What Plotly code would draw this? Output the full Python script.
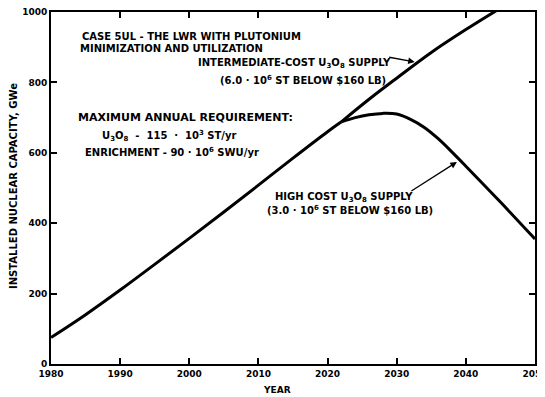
import plotly.graph_objects as go

# Data
base_years = [1980, 1985, 1990, 1995, 2000, 2005, 2010, 2015, 2020, 2022]
base_values = [75, 140, 210, 283, 357, 432, 508, 585, 660, 688]

inter_years = [2022, 2026, 2030, 2035, 2040, 2045]
inter_values = [688, 752, 812, 885, 950, 1011]

high_years = [2022, 2024, 2026, 2028, 2030, 2032, 2034, 2036, 2038, 2040, 2045, 2050]
high_values = [688, 700, 708, 712, 710, 695, 672, 640, 602, 562, 460, 355]

x_ticks = [1980, 1990, 2000, 2010, 2020, 2030, 2040, 2050]
y_ticks = [0, 200, 400, 600, 800, 1000]

FONT = "DejaVu Sans"
line_style = dict(color="black", width=3)

fig = go.Figure()
fig.add_trace(go.Scatter(x=base_years, y=base_values, mode="lines", line=line_style,
                         line_shape="spline", showlegend=False))
fig.add_trace(go.Scatter(x=inter_years, y=inter_values, mode="lines", line=line_style,
                         line_shape="spline", showlegend=False))
fig.add_trace(go.Scatter(x=high_years, y=high_values, mode="lines", line=line_style,
                         line_shape="spline", showlegend=False))

# plot-area edges in page pixels; the page body has an 8px margin
OFF = 8
L, R, T, B = 51, 535, 12, 364
W, H = 545 - OFF, 397 - OFF


def px(x):
    return (x - L) / (R - L)


def py(y):
    return (B - y) / (B - T)


def note(text, x, y, xanchor="left", size=10, angle=0):
    fig.add_annotation(text=text, xref="paper", yref="paper", x=px(x), y=py(y),
                       xanchor=xanchor, yanchor="middle", showarrow=False,
                       textangle=angle,
                       font=dict(family=FONT, size=size, color="black"))


note("<b>CASE 5UL - THE LWR WITH PLUTONIUM</b>", 80, 36)
note("<b>MINIMIZATION AND UTILIZATION</b>", 78, 48)
note("<b>INTERMEDIATE-COST U<sub>3</sub>O<sub>8</sub> SUPPLY</b>", 196, 63)
note("<b>(6.0 · 10<sup>6</sup> ST BELOW $160 LB)</b>", 218, 80)
note("<b>MAXIMUM ANNUAL REQUIREMENT:</b>", 76, 117, size=11)
note("<b>U<sub>3</sub>O<sub>8</sub>  -  115  ·  10<sup>3</sup> ST/yr</b>", 100, 136)
note("<b>ENRICHMENT - 90 · 10<sup>6</sup> SWU/yr</b>", 83, 152)
note("<b>HIGH COST U<sub>3</sub>O<sub>8</sub> SUPPLY</b>", 273, 197)
note("<b>(3.0 · 10<sup>6</sup> ST BELOW $160 LB)</b>", 265, 210)

# axis titles
note("<b>YEAR</b>", 277, 390, xanchor="center", size=9)
note("<b>INSTALLED NUCLEAR CAPACITY, GWe</b>", 14, 186, xanchor="center", size=10, angle=-90)

# arrows pointing to the curves
fig.add_annotation(x=2032.6, y=858, xref="x", yref="y", ax=-27, ay=-5,
                   axref="pixel", ayref="pixel", showarrow=True, arrowhead=2,
                   arrowsize=1, arrowwidth=1.3, arrowcolor="black", text="")
fig.add_annotation(x=2038.7, y=574, xref="x", yref="y", ax=-47, ay=30,
                   axref="pixel", ayref="pixel", showarrow=True, arrowhead=2,
                   arrowsize=1, arrowwidth=1.3, arrowcolor="black", text="")

axis_common = dict(showline=True, linecolor="black", linewidth=2, mirror="ticks",
                   ticks="inside", ticklen=6, tickwidth=1.5, tickcolor="black",
                   showgrid=False, zeroline=False, automargin=False,
                   ticklabeloverflow="allow",
                   tickfont=dict(family=FONT, size=9, color="black"))

fig.update_xaxes(range=[1980, 2050], tickvals=x_ticks,
                 ticktext=[f"<b>{v}</b>" for v in x_ticks], **axis_common)
fig.update_yaxes(range=[0, 1000], tickvals=y_ticks,
                 ticktext=[f"<b>{v}</b>" for v in y_ticks], **axis_common)

fig.update_layout(width=W, height=H,
                  margin=dict(l=L - OFF, r=W - (R - OFF), t=T - OFF, b=H - (B - OFF)),
                  paper_bgcolor="white", plot_bgcolor="white")

fig.write_html("out.html")
